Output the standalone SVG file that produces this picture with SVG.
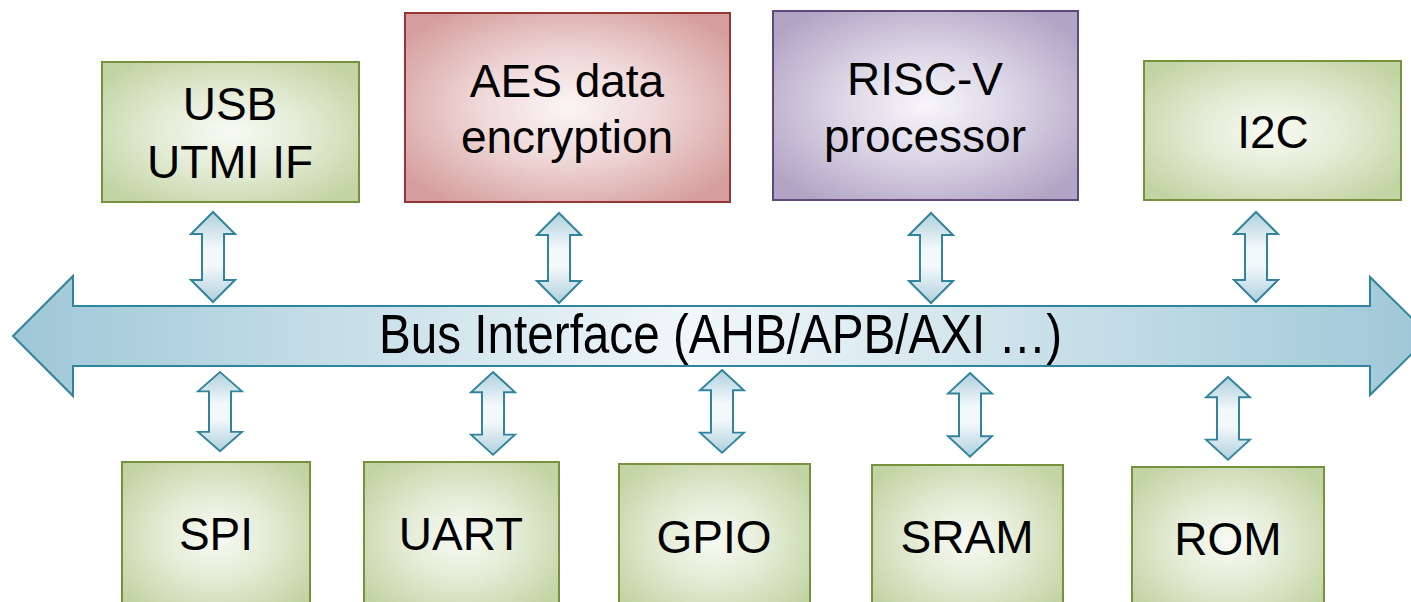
<svg xmlns="http://www.w3.org/2000/svg" width="1411" height="602" viewBox="0 0 1411 602">
  <defs>
    <radialGradient id="gGreen" cx="0.5" cy="0.5" r="0.62">
      <stop offset="0" stop-color="#f8faf4"/>
      <stop offset="0.45" stop-color="#e4ecd6"/>
      <stop offset="1" stop-color="#c3d4a4"/>
    </radialGradient>
    <radialGradient id="gRed" cx="0.5" cy="0.5" r="0.62">
      <stop offset="0" stop-color="#fbf5f5"/>
      <stop offset="0.45" stop-color="#efd7d7"/>
      <stop offset="1" stop-color="#d69e9e"/>
    </radialGradient>
    <radialGradient id="gPurple" cx="0.5" cy="0.5" r="0.62">
      <stop offset="0" stop-color="#f7f6fa"/>
      <stop offset="0.45" stop-color="#dcd6e6"/>
      <stop offset="1" stop-color="#b1a4c4"/>
    </radialGradient>
    <linearGradient id="gBus" x1="13" y1="0" x2="1430" y2="0" gradientUnits="userSpaceOnUse">
      <stop offset="0" stop-color="#9fc7d7"/>
      <stop offset="0.48" stop-color="#f1f7fa"/>
      <stop offset="1" stop-color="#9fc7d7"/>
    </linearGradient>
    <linearGradient id="gLink" x1="0" y1="0" x2="0" y2="1">
      <stop offset="0" stop-color="#afd0dd"/>
      <stop offset="0.4" stop-color="#f3f8fa"/>
      <stop offset="0.6" stop-color="#f3f8fa"/>
      <stop offset="1" stop-color="#afd0dd"/>
    </linearGradient>
    <!-- double-headed link arrow, 90 tall, centred on x=0, y from 0 to 90 -->
    <path id="link" d="M0,0 L22,22 L11,22 L11,68 L22,68 L0,90 L-22,68 L-11,68 L-11,22 L-22,22 Z"/>
  </defs>
  <style>
    .box { stroke-width: 2; }
    .green { fill: url(#gGreen); stroke: #76923c; }
    .red { fill: url(#gRed); stroke: #953735; }
    .purple { fill: url(#gPurple); stroke: #5f497a; }
    .label { font-family: "Liberation Sans", Arial, sans-serif; font-size: 46px; fill: #000; text-anchor: middle; }
    .lnk { fill: url(#gLink); stroke: #31849b; stroke-width: 2; stroke-linejoin: miter; }
  </style>

  <rect width="1411" height="602" fill="#ffffff"/>

  <!-- system bus -->
  <g id="bus">
    <polygon points="13,336 73,276 73,306 1370,306 1370,277 1430,336 1370,395 1370,366 73,366 73,396"
             fill="url(#gBus)" stroke="#31849b" stroke-width="2"/>
    <text x="379" y="353" font-family="Liberation Sans, Arial, sans-serif" font-size="56" textLength="683" lengthAdjust="spacingAndGlyphs">Bus Interface (AHB/APB/AXI …)</text>
  </g>

  <!-- bus links -->
  <g id="connectors">
    <use href="#link" class="lnk" transform="translate(213,212)"/>
    <use href="#link" class="lnk" transform="translate(559,213)"/>
    <use href="#link" class="lnk" transform="translate(931,213)"/>
    <use href="#link" class="lnk" transform="translate(1256,212)"/>
    <use href="#link" class="lnk" transform="translate(220,372) scale(1,0.88)"/>
    <use href="#link" class="lnk" transform="translate(493,372) scale(1,0.92)"/>
    <use href="#link" class="lnk" transform="translate(722,370) scale(1,0.92)"/>
    <use href="#link" class="lnk" transform="translate(970,373) scale(1,0.93)"/>
    <use href="#link" class="lnk" transform="translate(1228,377) scale(1,0.92)"/>
  </g>

  <!-- top row -->
  <g id="usb">
    <rect class="box green" x="102" y="62" width="257" height="140"/>
    <text class="label" x="230" y="120">USB</text>
    <text class="label" x="230" y="178">UTMI IF</text>
  </g>
  <g id="aes">
    <rect class="box red" x="405" y="13" width="325" height="189"/>
    <text class="label" x="567" y="97">AES data</text>
    <text class="label" x="567" y="153">encryption</text>
  </g>
  <g id="riscv">
    <rect class="box purple" x="773" y="11" width="305" height="189"/>
    <text class="label" x="925" y="95">RISC-V</text>
    <text class="label" x="925" y="152">processor</text>
  </g>
  <g id="i2c">
    <rect class="box green" x="1144" y="61" width="257" height="139"/>
    <text class="label" x="1273" y="148">I2C</text>
  </g>

  <!-- bottom row -->
  <g id="spi">
    <rect class="box green" x="122" y="462" width="188" height="150"/>
    <text class="label" x="216" y="550">SPI</text>
  </g>
  <g id="uart">
    <rect class="box green" x="364" y="462" width="195" height="150"/>
    <text class="label" x="461" y="550">UART</text>
  </g>
  <g id="gpio">
    <rect class="box green" x="619" y="464" width="191" height="150"/>
    <text class="label" x="714" y="553">GPIO</text>
  </g>
  <g id="sram">
    <rect class="box green" x="872" y="465" width="191" height="150"/>
    <text class="label" x="967" y="553">SRAM</text>
  </g>
  <g id="rom">
    <rect class="box green" x="1132" y="467" width="192" height="150"/>
    <text class="label" x="1228" y="555">ROM</text>
  </g>
</svg>
